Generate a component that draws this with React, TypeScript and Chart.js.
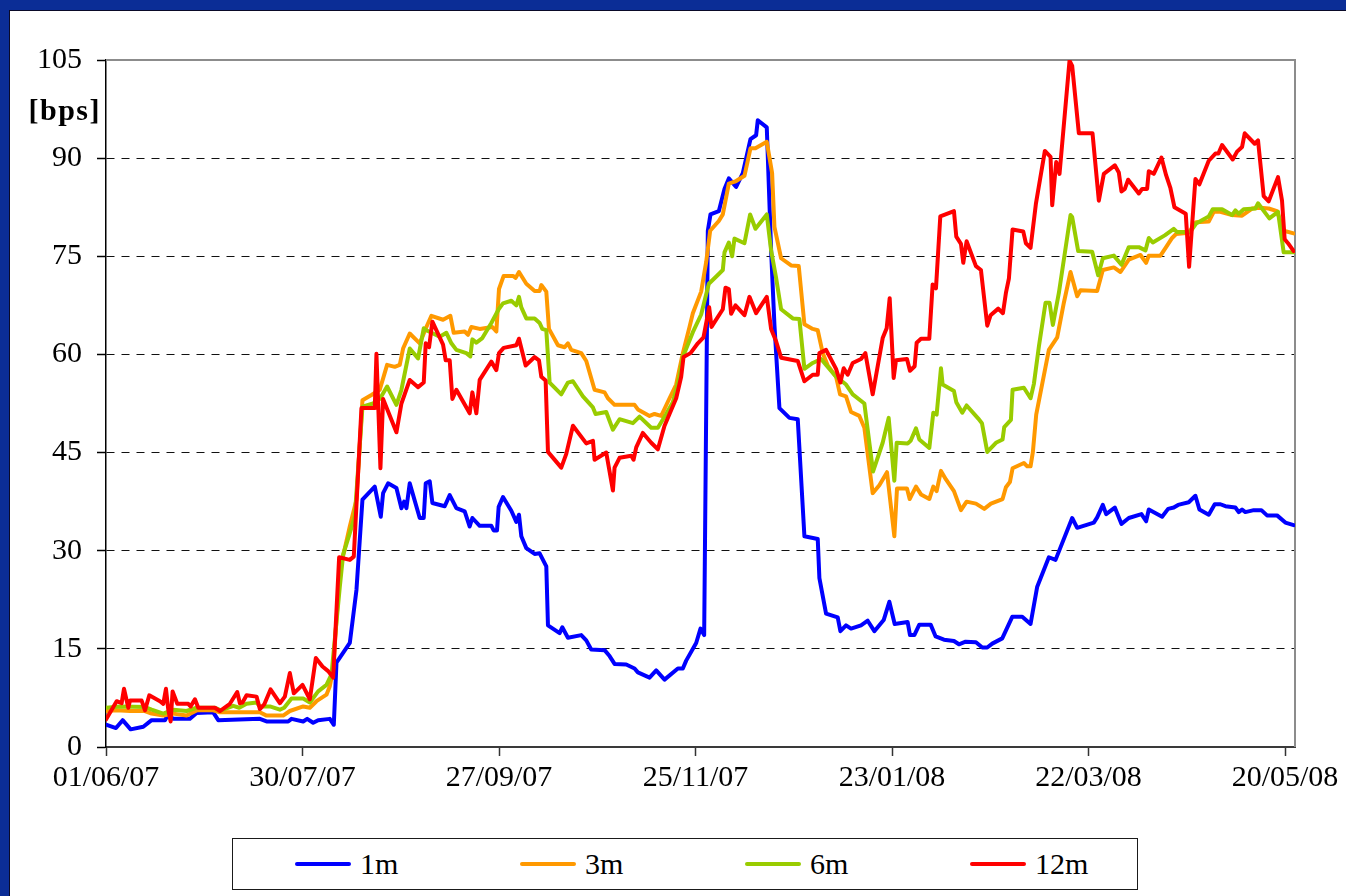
import React, { useEffect, useRef } from 'react';
import { Chart, registerables } from 'chart.js';

Chart.register(...registerables);

// x positions are days counted from 01/06/07
const tickDays = [0, 59, 118, 177, 236, 295, 354];
const tickLabels = ['01/06/07', '30/07/07', '27/09/07', '25/11/07', '23/01/08', '22/03/08', '20/05/08'];
const yMin = 0;
const yMax = 105;
const yStep = 15;
const xMax = 357;
const yUnitLabel = '[bps]';

const seriesNames = ['1m', '3m', '6m', '12m'];
const seriesColors = ['#0000FF', '#FF9900', '#99CC00', '#FF0000'];

// [day, bps]
const spread1m: number[][] = [
  [0, 3.4], [3, 2.9], [5, 4.1], [7.4, 2.7], [11.2, 3.1], [13.7, 4.1], [17.7, 4.1], [18.7, 5.0], [20.2, 4.3], [25.2, 4.3],
  [27.2, 5.2], [32.2, 5.3], [33.7, 4.1], [46.2, 4.3], [48.2, 3.9], [54.7, 3.9], [55.7, 4.3], [59.2, 3.9], [60.4, 4.3], [62.2, 3.7],
  [63.7, 4.1], [67.2, 4.3], [68.4, 3.4], [69.2, 12.9], [73.2, 15.9], [75.2, 24], [77, 37.8], [80.7, 39.8], [82.5, 35.2], [83.2, 38.8],
  [84.7, 40.3], [87.2, 39.6], [88.7, 36.5], [89.5, 37.5], [90.2, 36.5], [91.2, 40.3], [94.2, 35], [95.4, 35], [96, 40.3], [97.2, 40.6],
  [98, 37.3], [101.7, 36.8], [103.2, 38.5], [105.2, 36.5], [107.7, 36], [109.2, 33.7], [110, 35], [112.2, 33.8], [115.7, 33.8], [116.4, 33.1],
  [117.4, 33.1], [117.9, 36.7], [119.2, 38.2], [121.7, 36.1], [123.2, 34.4], [124, 35.5], [124.7, 32.2], [126.2, 30.4], [128.7, 29.5], [130.2, 29.6],
  [132.2, 27.6], [132.7, 18.6], [136.2, 17.4], [137, 18.3], [138.7, 16.7], [142.7, 17.1], [144.2, 16.3], [145.7, 14.9], [149.7, 14.8], [151.2, 13.9],
  [152.7, 12.7], [156.2, 12.6], [158.7, 12], [159.7, 11.4], [163.2, 10.6], [165.2, 11.7], [167.7, 10.3], [171.7, 12], [173.2, 12], [174.2, 13.2],
  [177.2, 15.9], [178.5, 18.1], [179.6, 17.1], [180.7, 78.9], [181.5, 81.4], [184, 81.9], [185.7, 85.3], [187, 86.9], [189.2, 85.6], [191.2, 87.7],
  [193.5, 92.9], [195.2, 93.5], [195.7, 95.8], [198.4, 94.7], [199.7, 75.9], [200.7, 64.5], [202.2, 51.8], [205.2, 50.3], [207.7, 50.1], [209.7, 32.2],
  [213.7, 31.8], [214.2, 25.8], [216.2, 20.4], [219.7, 19.8], [220.5, 17.7], [222.2, 18.6], [223.7, 18.1], [226.7, 18.6], [228.7, 19.3], [230.7, 17.7],
  [233.5, 19.4], [235.2, 22.2], [236.8, 18.8], [240.7, 19.1], [241.4, 17.1], [242.7, 17.1], [244.2, 18.7], [247.6, 18.7], [249.1, 16.9], [251.6, 16.4],
  [254.6, 16.2], [256.1, 15.7], [258.1, 16.1], [261.2, 16], [263.1, 15.2], [264.6, 15.2], [266.1, 15.8], [269.1, 16.6], [272.1, 19.9], [275.1, 19.9],
  [277.6, 18.8], [279.6, 24.5], [283.1, 29], [285.1, 28.6], [290.1, 35], [291.6, 33.5], [296.6, 34.3], [297.6, 35.1], [299.3, 37], [300.3, 35.6],
  [302.9, 36.6], [304.9, 34.1], [307.1, 35], [310.9, 35.6], [312.3, 34.5], [313.1, 36.3], [317.1, 35.2], [318.9, 36.4], [320.6, 36.6], [321.9, 37],
  [325.1, 37.4], [327.1, 38.4], [328.3, 36.3], [331.1, 35.5], [332.9, 37.1], [334.6, 37.1], [336.1, 36.8], [339.1, 36.6], [340.1, 35.9], [341.1, 36.3],
  [342.1, 35.9], [344.6, 36.2], [346.9, 36.2], [348.6, 35.4], [351.6, 35.4], [354.1, 34.3], [356.6, 33.9],
];

const spread3m: number[][] = [
  [0, 5.5], [3.2, 5.6], [7.2, 5.5], [11.7, 5.5], [13.7, 5.1], [17.2, 4.8], [20.2, 5.1], [24.2, 4.8], [27.2, 5.6], [32.2, 5.6],
  [34.2, 5.3], [46.2, 5.3], [48.2, 4.8], [53.2, 4.8], [55.2, 5.5], [59.2, 6.2], [61.2, 6], [63.2, 7], [66.2, 8], [67.2, 9.3],
  [68.2, 11.8], [70.2, 27], [73.2, 33.7], [75.2, 37.8], [77, 53], [79.7, 53.8], [82.2, 54.6], [84.4, 58.4], [86.7, 58.1], [88.2, 58.4],
  [89.2, 60.9], [91.2, 63.2], [94.2, 61.7], [96.2, 64.2], [97.7, 65.9], [101.2, 65.3], [103.4, 65.9], [104.4, 63.3], [107.7, 63.5], [108.7, 63],
  [109.7, 64.2], [112.2, 63.9], [116, 64.2], [117.2, 63.5], [118, 70], [119.4, 72], [122.2, 72], [123, 71.7], [124, 72.6], [126.2, 70.8],
  [128.7, 69.7], [130.2, 69.7], [130.7, 70.6], [132.2, 69.6], [133, 63.9], [135.7, 61.4], [137.7, 61.1], [138.7, 61.7], [139.7, 60.7], [142.7, 60.2],
  [144.2, 59], [146.7, 54.6], [149.7, 54.2], [150.7, 53.3], [152.7, 52.3], [158.7, 52.3], [159.7, 51.6], [163.2, 50.6], [164.7, 50.9], [166.7, 50.6],
  [169.2, 53.3], [171.2, 55.4], [173.2, 60.2], [175.2, 64.2], [176.2, 66.3], [178.7, 69.6], [180.2, 74.1], [181.4, 78.9], [184, 80.4], [185.2, 81.4],
  [187, 86.1], [189.2, 86.5], [191.7, 87.3], [193.5, 91.5], [195, 91.5], [198.4, 92.5], [200, 87.7], [200.7, 79.5], [202.7, 74.7], [205.7, 73.6],
  [208, 73.5], [209.7, 64.6], [212.2, 63.9], [213.7, 63.7], [215.2, 60.2], [216.7, 58.3], [219.2, 56.6], [220.4, 53.9], [222.2, 53.6], [223.7, 51.2],
  [226.2, 50.6], [227.7, 48.8], [230.2, 38.8], [232.2, 40], [234.5, 42], [236.7, 32.2], [237.5, 39.5], [240.5, 39.5], [241.3, 37.9], [243.2, 39.8],
  [244.7, 38.6], [247.2, 37.9], [248.4, 39.8], [249.4, 39.1], [250.7, 42.2], [252.2, 40.9], [254.6, 39.1], [256.7, 36.2], [258.4, 37.5], [261.2, 37.2],
  [263.7, 36.4], [265.7, 37.2], [269.2, 37.9], [270.2, 39.7], [271.4, 40.5], [272.2, 42.6], [275.6, 43.4], [276.6, 42.9], [277.6, 42.9], [278.3, 45.1],
  [279.3, 50.8], [281.1, 55.5], [283.1, 60.7], [285.6, 62.6], [287.6, 67.9], [289.6, 72.6], [291.6, 68.9], [292.6, 69.8], [297.6, 69.7], [299.3, 72.9],
  [302.6, 73.3], [304.6, 72.6], [307.1, 74.5], [310.6, 75.2], [312.3, 74], [313.1, 75.1], [316.6, 75.1], [318.3, 76.4], [320.1, 77.8], [321.3, 78.4],
  [325.1, 78.6], [327.3, 80.2], [331.1, 80.3], [332.6, 81.8], [334.6, 81.8], [338.1, 81.3], [341.1, 81.2], [344.1, 82.3], [346.6, 82.4], [349.1, 82.3],
  [351.6, 81.9], [353.6, 78.9], [356.6, 78.5],
];

const spread6m: number[][] = [
  [0, 6], [4.2, 6.2], [11.7, 6.1], [13.7, 5.7], [17.2, 5.1], [20.2, 5.7], [24.2, 5.5], [27.2, 6], [32.7, 6], [34.5, 5.6],
  [38.2, 6.3], [40, 6], [42.2, 6.6], [45.2, 6.8], [46.2, 6.2], [49.2, 6.2], [52.2, 5.7], [53.5, 6], [55.7, 7.4], [59.2, 7.4],
  [61.2, 6.8], [63.7, 8.5], [66.2, 9.5], [67.7, 11.1], [70.2, 24.5], [71.2, 29.4], [73.2, 32.7], [74.7, 35.2], [77, 52], [80.2, 52.5],
  [82.2, 53.2], [84.4, 55.1], [87.2, 52.3], [88.7, 54.6], [91.2, 60.9], [93.7, 59.4], [95.4, 64], [96.2, 63.7], [100.2, 62.7], [102.2, 63.3],
  [103.7, 61.7], [105.2, 60.7], [108.2, 60.2], [109.4, 59.7], [110, 62.3], [111.2, 61.8], [113, 62.5], [115.7, 64.8], [117.9, 66.9], [119.2, 67.8],
  [121.7, 68.2], [123.2, 67.5], [124, 68.8], [124.7, 67.2], [126.2, 65.5], [128.7, 65.5], [130.2, 64.8], [131, 63.9], [132.2, 63.7], [133.2, 55.7],
  [136.7, 53.9], [138.7, 55.7], [140.2, 55.9], [143.2, 53.6], [146.2, 51.9], [147, 50.9], [150.2, 51.2], [152.2, 48.5], [154.2, 50.1], [158.2, 49.5],
  [160.2, 50.5], [163.7, 48.8], [165.7, 48.8], [168.2, 50.9], [170.2, 52.7], [172.2, 56.6], [173.2, 59.6], [176.2, 63.4], [178.7, 66.1], [181, 70.8],
  [184, 72.3], [185.2, 72.9], [185.7, 75.6], [187, 77.1], [188, 75], [188.7, 77.7], [191.7, 77], [193.4, 81.4], [195, 79.2], [198.4, 81.4],
  [199.7, 75.9], [201.2, 71.7], [202.7, 66.9], [206.2, 65.5], [208.2, 65.4], [209.7, 57.8], [212.2, 58.7], [214.7, 59.3], [216.2, 58.4], [219.2, 56.6],
  [222.2, 55.4], [224.2, 53.9], [227.7, 52.5], [230.3, 42.1], [233.2, 46.5], [235, 50.3], [236.7, 40.7], [237.4, 46.5], [240.7, 46.4], [241.6, 46.8],
  [243.2, 48.7], [244.2, 47], [247.2, 45.7], [248.4, 51.1], [249.4, 50.8], [250.7, 57.9], [251.2, 55.4], [254.6, 54.4], [255.3, 52.7], [257.1, 51.1],
  [258.4, 52.2], [261.9, 50.2], [263, 49.5], [264.6, 45.1], [267.2, 46.5], [269.2, 47], [269.7, 48.9], [271.7, 50], [272.2, 54.6], [275.6, 54.9],
  [277.6, 53.3], [278.6, 55.5], [280.1, 61.2], [282.1, 67.9], [283.3, 67.9], [284.3, 64.5], [286.1, 69.4], [289.6, 81.3], [290.1, 81], [291.9, 75.8],
  [296.1, 75.7], [297.9, 72.1], [299.3, 74.7], [302.6, 75.1], [304.9, 73.7], [307.1, 76.4], [310.1, 76.4], [312.1, 75.9], [313.1, 77.8], [314.3, 77.1],
  [317.9, 78.2], [320.6, 79.2], [321.6, 78.7], [325.5, 78.7], [327.3, 80], [331.1, 81.1], [332.3, 82.2], [335.1, 82.2], [338.1, 81.3], [339.1, 82],
  [340.1, 81.5], [341.6, 82.2], [345.1, 82.3], [345.9, 83.1], [349.3, 80.8], [351.9, 81.8], [353.6, 75.6], [356.6, 75.6],
];

const spread12m: number[][] = [
  [0, 4.2], [3.2, 7], [4.7, 6.7], [5.4, 8.9], [6.7, 6], [7.2, 7.1], [10.7, 7.1], [11.7, 5.6], [13, 7.9], [16.2, 7],
  [17.2, 6.6], [18, 8.9], [18.7, 5.7], [19.4, 3.9], [20, 8.5], [21.4, 6.6], [24.7, 6.6], [25.4, 6.2], [26.7, 7.3], [27.7, 6],
  [32.7, 6], [34.2, 5.5], [37.2, 6.6], [39.4, 8.4], [40.2, 6.7], [41, 6.8], [42.2, 7.9], [45.2, 7.7], [46.2, 5.8], [47.5, 6.5],
  [49.4, 8.8], [52.2, 6.7], [53.7, 7.7], [55.2, 11.3], [56.4, 8.2], [59, 9.5], [61.2, 7.3], [63, 13.6], [65, 12.3], [66.7, 11.6],
  [68.2, 10.6], [70, 29], [73.2, 28.6], [74.4, 29.1], [76.7, 51.8], [80.7, 51.8], [81.2, 60.1], [82.4, 42.6], [83.2, 53.2], [87.2, 48.1],
  [88.7, 52.5], [91.2, 56.1], [93.7, 55], [95.4, 55.7], [96, 61.7], [97, 61.1], [98, 65], [101.2, 61.5], [102, 59.1], [103.2, 59.1],
  [104, 53.2], [105.2, 54.6], [109.2, 51], [110, 54.2], [111.2, 51], [112.2, 56.1], [115.7, 58.9], [117.2, 57.6], [118, 60.2], [119.4, 61],
  [123.2, 61.4], [124, 62.4], [126, 58.3], [128.7, 59.6], [130, 59.1], [130.7, 56.6], [132, 56], [132.7, 45.1], [136.7, 42.7], [138.2, 44.8],
  [140.2, 49.1], [144.2, 46.4], [146.2, 46.8], [146.7, 43.9], [150.2, 45], [152.2, 39.2], [152.7, 42.7], [154.2, 44.2], [157.7, 44.5], [158.4, 43.9],
  [159.2, 45.8], [161.2, 48], [163.7, 46.5], [165.7, 45.5], [167.7, 49.1], [171.2, 53.3], [172.7, 56.6], [173.4, 59.6], [175.5, 60.2], [177.7, 61.7],
  [179.4, 62.6], [181.1, 67.2], [181.8, 64.2], [185.2, 66.9], [186, 70.2], [187, 70], [187.7, 66.2], [189, 67.5], [191.7, 66], [193.2, 68.8],
  [195.2, 66.3], [198.4, 68.8], [199.7, 63.9], [201.2, 62], [202.7, 59.5], [207.7, 59], [209.7, 55.9], [212.2, 56.9], [213.7, 56.9], [214.2, 60.2],
  [216.2, 60.7], [219.2, 57.8], [220.5, 55.7], [221.5, 57.9], [222.7, 56.9], [224.2, 58.7], [226.7, 59.3], [228, 60.2], [230.2, 53.9], [233.2, 62.5],
  [234.4, 64], [235.3, 68.6], [236.5, 56.4], [237.2, 59.1], [240.5, 59.3], [241.4, 57.5], [242.8, 58.2], [243.4, 61.8], [244.7, 62.4], [247.2, 62.4],
  [248.2, 70.7], [249.2, 70.1], [250.5, 81.1], [254.6, 81.9], [255.3, 78], [256.7, 76.9], [257.4, 74], [258.4, 77.3], [261.2, 73.5], [262.7, 72.9],
  [264.6, 64.4], [265.6, 66], [267.9, 67], [269.3, 66.3], [270.2, 69.4], [271.1, 71.6], [272.2, 79.1], [275.4, 78.8], [276.2, 77], [277.6, 76.3],
  [279.2, 83], [281.9, 91.1], [283.6, 90.2], [284.1, 82.8], [285.3, 89.4], [286.3, 87.6], [289.3, 104.9], [290.1, 104.1], [292.1, 93.8], [296.2, 93.8],
  [298.1, 83.5], [299.6, 87.6], [302.9, 88.9], [304.1, 87.8], [304.9, 84.9], [305.9, 85.3], [306.9, 86.7], [310.1, 84.6], [311.1, 85.3], [312.6, 85.3],
  [313.1, 88], [314.6, 87.6], [316.9, 90.1], [318.3, 87.4], [319.6, 85.4], [320.8, 82.5], [324.2, 81.5], [325.2, 73.4], [327.1, 86.8], [328.3, 86],
  [331.1, 89.6], [333.1, 90.7], [334, 90.7], [335.1, 92], [338.3, 89.8], [339.6, 91], [341.1, 91.7], [341.9, 93.8], [344.9, 92.2], [345.9, 92.7],
  [347.6, 84.2], [349.1, 83.4], [351.9, 87.1], [353.1, 83.5], [353.9, 77.6], [354.9, 77], [356.6, 75.8],
];

const seriesData = [spread1m, spread3m, spread6m, spread12m];

const FONT_FAMILY = '"Liberation Serif", "Times New Roman", Times, serif';

export default function App() {
  const canvasRef = useRef<HTMLCanvasElement>(null);

  useEffect(() => {
    document.body.style.margin = '0';
    document.body.style.overflow = 'hidden';
    const canvas = canvasRef.current;
    if (!canvas) return;

    const framePlugin = {
      id: 'plotFrame',
      beforeDatasetsDraw(chart: any) {
        const { ctx, chartArea: a } = chart;
        ctx.save();
        ctx.strokeStyle = '#8c8c8c';
        ctx.lineWidth = 2;
        ctx.beginPath();
        ctx.moveTo(a.left, a.top);
        ctx.lineTo(a.right, a.top);
        ctx.lineTo(a.right, a.bottom);
        ctx.stroke();
        ctx.restore();
      },
      afterDraw(chart: any) {
        const { ctx, chartArea: a } = chart;
        ctx.save();
        ctx.font = `bold 30px ${FONT_FAMILY}`;
        ctx.fillStyle = '#000';
        ctx.textAlign = 'right';
        ctx.textBaseline = 'middle';
        try {
          (ctx as any).letterSpacing = '1.5px';
        } catch (e) {
          /* ignore */
        }
        ctx.fillText(yUnitLabel, a.left - 5, a.top + 52);
        ctx.restore();
      },
    };

    const chart = new Chart(canvas, {
      type: 'line',
      data: {
        datasets: seriesNames.map((name, i) => ({
          label: name,
          data: seriesData[i].map(([x, y]) => ({ x, y })),
          borderColor: seriesColors[i],
          backgroundColor: seriesColors[i],
          borderWidth: 4,
          pointRadius: 0,
          tension: 0,
          borderJoinStyle: 'round' as const,
          borderCapStyle: 'round' as const,
          fill: false,
          order: seriesNames.length - i,
        })),
      },
      options: {
        animation: false,
        responsive: false,
        devicePixelRatio: 1,
        layout: { padding: { top: 49, right: 51, left: 0, bottom: 0 } },
        plugins: {
          legend: { display: false },
          tooltip: { enabled: false },
        },
        scales: {
          x: {
            type: 'linear',
            min: 0,
            max: xMax,
            afterFit: (scale: any) => {
              scale.height = 149;
            },
            afterBuildTicks: (axis: any) => {
              axis.ticks = tickDays.map((v) => ({ value: v }));
            },
            grid: {
              drawOnChartArea: false,
              drawTicks: true,
              tickLength: 9,
              tickColor: '#333',
              tickWidth: 1.5,
            },
            border: { color: '#3a3a3a', width: 2 },
            ticks: {
              autoSkip: false,
              maxRotation: 0,
              minRotation: 0,
              padding: 4,
              color: '#000',
              font: { family: FONT_FAMILY, size: 30 },
              callback: (value: any) => {
                const i = tickDays.indexOf(Number(value));
                return i >= 0 ? tickLabels[i] : '';
              },
            },
          },
          y: {
            type: 'linear',
            min: yMin,
            max: yMax,
            afterFit: (scale: any) => {
              scale.width = 96;
            },
            grid: {
              color: (ctx: any) => {
                const v = ctx.tick ? ctx.tick.value : null;
                return v === yMin || v === yMax ? 'rgba(0,0,0,0)' : '#111';
              },
              lineWidth: 1,
              drawTicks: true,
              tickLength: 9,
              tickColor: '#000',
              tickWidth: 1.5,
            },
            border: { color: '#000', width: 1.5, dash: [8, 7] },
            ticks: {
              stepSize: yStep,
              padding: 15,
              color: '#000',
              font: { family: FONT_FAMILY, size: 30 },
            },
          },
        },
      },
      plugins: [framePlugin],
    } as any);

    return () => {
      chart.destroy();
    };
  }, []);

  return (
    <div
      style={{
        position: 'fixed',
        left: 0,
        top: 0,
        width: 1346,
        height: 896,
        background: '#0b2d96',
        overflow: 'hidden',
      }}
    >
      <div
        style={{
          position: 'absolute',
          left: 9,
          top: 10,
          width: 1400,
          height: 950,
          background: '#fff',
          borderTop: '1px solid #0a0a28',
          borderLeft: '1px solid #0a0a28',
          boxSizing: 'border-box',
        }}
      />
      <canvas
        ref={canvasRef}
        width={1336}
        height={885}
        style={{ position: 'absolute', left: 10, top: 11, width: 1336, height: 885 }}
      />
      <div
        style={{
          position: 'absolute',
          left: 232,
          top: 838,
          width: 906,
          height: 52,
          border: '1.5px solid #1a1a1a',
          boxSizing: 'border-box',
          background: '#fff',
        }}
      >
        {seriesNames.map((name, i) => (
          <div
            key={name}
            style={{
              position: 'absolute',
              left: 62 + i * 225,
              top: 0,
              height: 49,
              display: 'flex',
              alignItems: 'center',
            }}
          >
            <span
              style={{
                display: 'inline-block',
                width: 56,
                height: 4,
                background: seriesColors[i],
                borderRadius: 2,
                marginRight: 9,
              }}
            />
            <span style={{ fontFamily: FONT_FAMILY, fontSize: 30, color: '#000', lineHeight: '30px' }}>{name}</span>
          </div>
        ))}
      </div>
    </div>
  );
}
